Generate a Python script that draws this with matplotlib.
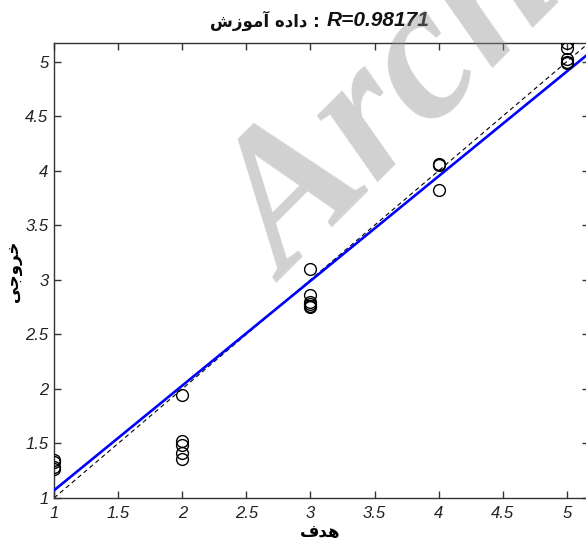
import matplotlib.pyplot as plt
import numpy as np

# targets / outputs
target_1 = [1, 1, 1, 1]
output_1 = [1.35, 1.33, 1.28, 1.27]
target_2 = [2, 2, 2, 2, 2]
output_2 = [1.94, 1.52, 1.49, 1.41, 1.36]
target_3 = [3, 3, 3, 3, 3, 3]
output_3 = [3.10, 2.86, 2.80, 2.78, 2.76, 2.75]
target_4 = [4, 4, 4]
output_4 = [4.06, 4.05, 3.82]
target_5 = [5, 5, 5, 5, 5]
output_5 = [5.17, 5.12, 5.02, 5.00, 4.99]

fit_slope = 0.96
fit_offset = 0.11
r_value = '0.98171'

ticks = [1, 1.5, 2, 2.5, 3, 3.5, 4, 4.5, 5]
tick_labels = ['1', '1.5', '2', '2.5', '3', '3.5', '4', '4.5', '5']
lim = (1, 5.17)

# persian text in visual order (presentation forms)
title_fa = '\uFEB5\uFEAF\uFEEE\uFEE3\uFE81 \uFEE9\uFEA9\uFE8D\uFEA9'   # داده آموزش
xlabel_fa = '\uFED1\uFEAA\uFEEB'                                    # هدف
ylabel_fa = '\uFEF0\uFE9F\uFEED\uFEAE\uFEA7'                        # خروجی

tx = target_1 + target_2 + target_3 + target_4 + target_5
ty = output_1 + output_2 + output_3 + output_4 + output_5

fig = plt.figure(figsize=(5.86, 5.42), dpi=100)
ax = fig.add_axes([0.0922, 0.0812, 0.9125, 0.8395])

xs = np.array(lim)
ax.plot(xs, xs, color='black', lw=0.8, ls=(0, (4, 3)), zorder=2)
ax.plot(xs, fit_slope * xs + fit_offset, color=(0, 0, 1), lw=1.9, zorder=3)
ax.plot(tx, ty, 'o', mfc='none', mec='black', ms=8.5, mew=1.0, zorder=4)

ax.set_xlim(lim)
ax.set_ylim(lim)
ax.set_xticks(ticks)
ax.set_yticks(ticks)
ax.set_xticklabels(tick_labels, fontfamily='Liberation Sans', style='italic', fontsize=12, color='#222222')
ax.set_yticklabels(tick_labels, fontfamily='Liberation Sans', style='italic', fontsize=12, color='#222222')
ax.tick_params(direction='in', length=5, width=1, top=True, right=True, color='#333333')
ax.tick_params(axis='x', pad=6)
ax.tick_params(axis='y', pad=4)
for s in ax.spines.values():
    s.set_color('#333333')
    s.set_linewidth(1.0)

fig.text(0.558, 0.962, 'R=' + r_value, fontfamily='Liberation Sans', fontweight='bold',
         style='italic', fontsize=15, ha='left', va='center', color='#111111')
fig.text(0.545, 0.962, title_fa + ' :', fontfamily='DejaVu Sans', fontweight='bold',
         fontsize=12, ha='right', va='center', color='#111111')
fig.text(0.546, 0.018, xlabel_fa, fontfamily='DejaVu Sans', fontweight='bold',
         fontsize=12, ha='center', va='center')
fig.text(0.022, 0.5, ylabel_fa, fontfamily='DejaVu Sans', fontweight='bold',
         fontsize=12, ha='center', va='center', rotation=90)

# watermark
fig.text(0.49, 0.476, 'Archive', fontfamily='Liberation Serif', fontweight='bold', style='italic',
         fontsize=140, color=(0.55, 0.55, 0.55), alpha=0.4, rotation=45,
         rotation_mode='anchor', ha='left', va='baseline', zorder=10)

fig.savefig('out.png')
